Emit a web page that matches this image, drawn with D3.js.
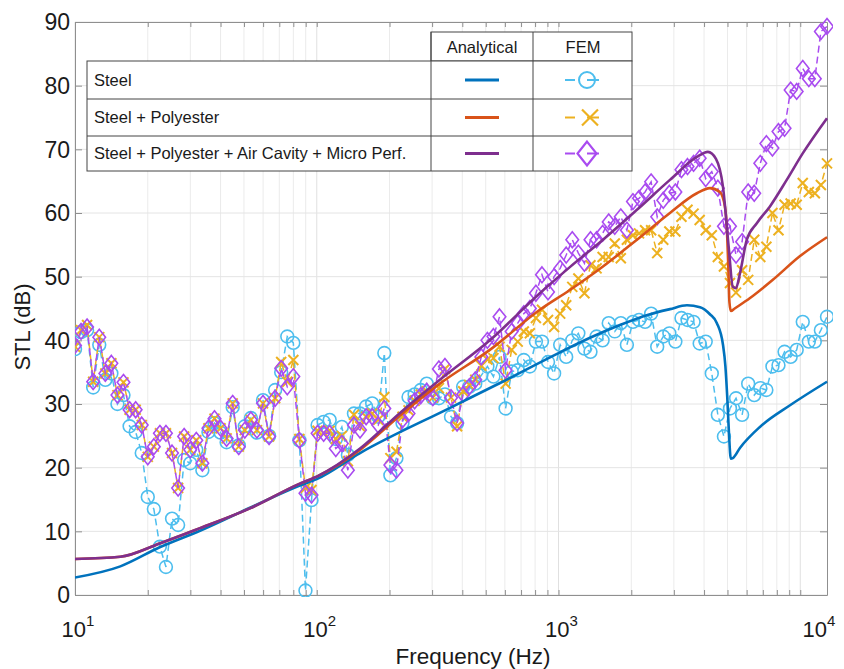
<!DOCTYPE html>
<html><head><meta charset="utf-8">
<script src="https://cdn.jsdelivr.net/npm/d3@7"></script>
<style>body{margin:0;background:#fff} svg{display:block} text{font-family:"Liberation Sans",Arial,Helvetica,sans-serif;fill:#1a1a1a}</style>
</head><body><svg id="c" width="844" height="669"></svg>
<script>
// ---------- DATA ----------
const freqFEM=[10,10.59,11.22,11.89,12.6,13.35,14.14,14.98,15.87,16.82,17.82,18.88,
20,21.19,22.45,23.78,25.2,26.7,28.28,29.97,31.75,33.64,35.64,37.76,
40,42.38,44.9,47.57,50.4,53.39,56.57,59.93,63.5,67.27,71.27,75.51,
80,84.76,89.8,95.14,100.8,106.8,113.1,119.9,127,134.5,142.5,151,
160,169.5,179.6,190.3,201.6,213.6,226.3,239.7,254,269.1,285.1,302.1,
320,339,359.2,380.6,403.2,427.1,452.5,479.5,508,538.2,570.2,604.1,
640,678.1,718.4,761.1,806.3,854.3,905.1,958.9,1016,1076,1140,1208,
1280,1356,1437,1522,1613,1709,1810,1918,2032,2153,2281,2416,
2560,2712,2874,3044,3225,3417,3620,3836,4064,4305,4561,4833,
5120,5424,5747,6089,6451,6834,7241,7671,8127,8611,9123,9665,
10240,10850,11490,12170,12900];
const stlSteelFEM=[38.6,41.3,41.6,32.6,39.3,33.8,34.8,30.0,31.4,26.5,25.6,22.3,
15.4,13.5,7.6,4.4,12.0,11.0,21.2,20.7,22.8,19.6,25.6,27.0,
25.5,24.0,29.5,23.5,26.5,27.8,25.5,30.6,25.0,32.2,35.0,40.6,
39.6,24.3,0.7,14.9,26.7,27.2,27.5,24.5,26.4,22.0,28.5,28.5,
29.6,30.1,28.0,38.0,18.8,21.5,27.0,31.1,31.5,32.2,33.2,30.9,
30.9,31.5,28.0,27.0,32.7,32.7,33.2,34.5,35.9,34.3,37.4,29.3,
35.1,35.3,36.9,35.9,39.8,39.8,36.6,34.8,39.3,37.4,40.0,41.1,
38.7,38.2,40.6,40.0,42.7,41.4,42.7,39.3,42.9,43.2,42.9,44.2,
39.0,40.6,41.1,39.8,43.5,43.2,42.9,39.5,39.8,34.8,28.3,24.9,
29.3,30.9,28.3,33.2,31.4,32.5,32.2,35.9,36.1,38.2,37.4,38.5,
42.9,39.8,39.8,41.6,43.7];
const stlPolyFEM=[39.0,41.6,42.4,33.5,40.5,34.8,36.4,31.4,33.4,29.1,29.1,26.7,
21.7,23.3,25.4,25.4,22.3,16.8,24.9,22.8,24.3,20.7,26.2,27.7,
26.2,24.6,30.1,23.3,25.9,27.5,25.9,30.1,24.9,30.9,36.6,33.5,
36.9,24.5,16.8,16.5,25.8,25.4,25.8,24.5,25.0,21.0,28.3,26.5,
28.0,28.5,27.5,31.1,21.5,22.5,28.0,29.0,30.5,31.5,32.0,31.0,
32.5,35.5,31.0,26.5,32.0,33.0,33.8,36.0,37.0,37.2,39.0,33.2,
38.5,39.8,41.4,41.1,43.5,44.8,43.2,42.1,44.2,45.5,48.4,49.7,
47.4,51.8,51.3,53.1,53.1,55.2,52.9,55.8,56.5,56.8,57.3,57.3,
53.7,55.8,57.1,57.1,59.4,60.5,59.9,58.9,57.3,56.5,53.1,51.6,
49.0,47.5,51.0,49.5,55.8,53.1,54.7,60.0,57.3,61.3,61.5,61.3,
64.7,63.3,63.1,64.4,67.8];
const stlMicroFEM=[39.2,41.4,42.1,33.5,40.5,34.8,36.4,31.4,33.4,29.1,29.1,26.7,
21.7,23.3,25.4,25.4,22.3,16.8,24.9,22.8,24.3,20.7,26.2,27.7,
26.2,24.6,30.1,23.3,25.9,27.5,25.9,30.1,24.9,30.9,35.6,32.7,
34.3,24.3,16.0,15.7,25.4,25.4,25.4,23.0,23.8,19.6,26.7,25.9,
28.0,28.0,26.7,29.3,20.4,19.6,27.5,28.5,30.5,31.3,32.0,31.0,
35.5,35.9,31.0,27.0,31.5,32.7,33.8,37.4,40.0,40.6,43.7,35.3,
41.4,42.7,44.2,45.0,47.4,50.3,47.6,50.0,51.3,53.4,55.8,53.7,
52.1,55.8,55.8,56.8,58.6,57.9,59.4,57.3,61.8,62.3,63.3,64.9,
59.4,62.0,63.1,63.3,66.8,67.3,67.8,68.6,65.4,66.5,63.9,57.9,
57.9,53.4,55.5,63.3,63.1,67.8,70.9,70.2,72.8,73.3,79.3,79.1,
82.7,81.1,81.1,88.5,89.3];

const freqSteelAna=[10,15.4,22.4,32.9,52.9,85.1,100,151,356,573,1000,1350,1795,2390,2890,3400,3850,4230,4520,4790,4900,4990,5070,5160,5260,5630,6810,9070,12900];
const stlSteelAna=[2.75,4.5,7.5,10.1,13.7,17.2,18.2,22.3,29.4,33.3,38.0,40.4,42.4,44.1,44.9,45.5,45.2,44.1,42.7,39.3,36.0,31.0,25.5,21.4,21.5,23.1,26.4,29.8,33.5];
const freqPolyAna=[10,15.4,22.4,32.9,52.9,85.1,100,151,221,323,520,837,1114,1527,2110,2890,3735,4230,4650,4880,4970,5045,5093,5165,5355,6180,7700,9950,12900];
const stlPolyAna=[5.65,6.0,8.1,10.5,13.6,17.5,18.6,22.8,28.2,33.2,38.5,44.8,47.9,51.6,55.8,60.0,63.1,63.9,63.3,61.0,57.5,51.0,46.0,44.6,45.0,46.6,49.5,53.2,56.2];
const freqMicroAna=[10,15.4,22.4,32.9,52.9,85.1,100,151,221,323,520,837,1114,1527,2110,2890,3735,4150,4480,4790,5070,5260,5420,5630,6010,6610,7480,8790,10250,12900];
const stlMicroAna=[5.65,6.0,8.1,10.5,13.6,17.5,18.6,23.0,28.6,33.8,40.0,47.4,51.5,55.8,60.5,65.2,68.8,69.6,68.5,64.1,54.2,48.4,48.2,50.5,55.8,58.4,61.0,65.2,69.4,74.9];

const xTickValues=[10,100,1000,10000];
const xTickExps=["1","2","3","4"];
const yTickValues=[0,10,20,30,40,50,60,70,80,90];
const legendRows=["Steel","Steel + Polyester","Steel + Polyester + Air Cavity + Micro Perf."];
const legendHeads=["Analytical","FEM"];
const xLabel="Frequency (Hz)", yLabel="STL (dB)";

// ---------- LAYOUT ----------
const L=75,R=827,T=22,B=595;
const svg=d3.select("#c");
const x=d3.scaleLog().domain([10,12900]).range([L,R]);
const y=d3.scaleLinear().domain([0,90]).range([B,T]);
const C={steelA:"#0072BD",polyA:"#D95319",microA:"#7E2F8E",steelF:"#4DBEEE",polyF:"#EDB120",microF:"#A94BF0"};

// grid
const g=svg.append("g");
const minor=[];
for(let d=10;d<=10000;d*=10){for(let m=1;m<10;m++){const v=d*m;if(v>=10&&v<=12900)minor.push(v);}}
g.selectAll(".vg").data(minor).join("line").attr("x1",d=>x(d)).attr("x2",d=>x(d)).attr("y1",T).attr("y2",B)
 .attr("stroke",d=>xTickValues.includes(d)?"#e0e0e0":"#ebebeb").attr("stroke-width",1);
g.selectAll(".hg").data(yTickValues).join("line").attr("x1",L).attr("x2",R).attr("y1",d=>y(d)).attr("y2",d=>y(d))
 .attr("stroke","#e4e4e4").attr("stroke-width",1);

// axes with d3 axis (inward ticks)
const axCol="#8f8f8f";
const xb=svg.append("g").attr("transform",`translate(0,${B})`).call(d3.axisBottom(x).tickValues(minor).tickSizeInner(-5).tickSizeOuter(0).tickFormat(""));
const xt=svg.append("g").attr("transform",`translate(0,${T})`).call(d3.axisTop(x).tickValues(minor).tickSizeInner(-5).tickSizeOuter(0).tickFormat(""));
const yl=svg.append("g").attr("transform",`translate(${L},0)`).call(d3.axisLeft(y).tickValues(yTickValues).tickSizeInner(-7).tickSizeOuter(0).tickFormat(""));
const yr=svg.append("g").attr("transform",`translate(${R},0)`).call(d3.axisRight(y).tickValues(yTickValues).tickSizeInner(-7).tickSizeOuter(0).tickFormat(""));
[xb,xt,yl,yr].forEach(a=>{a.select(".domain").attr("stroke",axCol);a.selectAll(".tick line").attr("stroke",axCol);});

// y tick labels
svg.append("g").selectAll("text").data(yTickValues).join("text")
 .attr("x",L-5).attr("y",d=>y(d)).attr("dy","0.36em").attr("text-anchor","end")
 .style("font-size","23px").text(d=>d);
// x tick labels with superscript
const xl=svg.append("g").selectAll("text").data(xTickValues).join("text")
 .attr("x",(d,i)=>i===3?R-8:x(d)+3).attr("y",637).attr("text-anchor","middle").style("font-size","22px");
xl.append("tspan").text("10");
xl.append("tspan").attr("dy",-11).style("font-size","15px").text((d,i)=>xTickExps[i]);

svg.append("text").attr("x",473).attr("y",664).attr("text-anchor","middle").style("font-size","22.5px").text(xLabel);
svg.append("text").attr("transform","translate(30,327) rotate(-90)").attr("text-anchor","middle").style("font-size","22px").text(yLabel);

// clip
svg.append("clipPath").attr("id","clp").append("rect").attr("x",L).attr("y",T-12).attr("width",R-L+6).attr("height",B-T+14);
const plot=svg.append("g").attr("clip-path","url(#clp)");

function markerPath(type,s){
  if(type==="o") return null;
  if(type==="x") return `M${-s},${-s}L${s},${s}M${-s},${s}L${s},${-s}`;
  if(type==="d") return `M0,${-s*1.25}L${s},0L0,${s*1.25}L${-s},0Z`;
}
function fem(vals,col,type){
  const pts=freqFEM.map((f,i)=>[f,vals[i]]);
  plot.append("path").datum(pts).attr("fill","none").attr("stroke",col).attr("stroke-width",1.5)
   .attr("stroke-dasharray","7,4").attr("d",d3.line().x(d=>x(d[0])).y(d=>y(d[1])));
  const mg=plot.append("g");
  if(type==="o"){
    mg.selectAll("circle").data(pts).join("circle").attr("cx",d=>x(d[0])).attr("cy",d=>y(d[1])).attr("r",6.4)
      .attr("fill","none").attr("stroke",col).attr("stroke-width",1.6);
  } else {
    mg.selectAll("path").data(pts).join("path").attr("transform",d=>`translate(${x(d[0])},${y(d[1])})`)
      .attr("d",markerPath(type,type==="x"?5:6.3)).attr("fill","none").attr("stroke",col).attr("stroke-width",type==="x"?2:1.6);
  }
}
fem(stlSteelFEM,C.steelF,"o");
fem(stlPolyFEM,C.polyF,"x");
fem(stlMicroFEM,C.microF,"d");

function ana(fr,vals,col){
  plot.append("path").datum(fr.map((f,i)=>[f,vals[i]])).attr("fill","none").attr("stroke",col).attr("stroke-width",2.6)
   .attr("d",d3.line().curve(d3.curveMonotoneX).x(d=>x(d[0])).y(d=>y(d[1])));
}
ana(freqSteelAna,stlSteelAna,C.steelA);
ana(freqPolyAna,stlPolyAna,C.polyA);
ana(freqMicroAna,stlMicroAna,C.microA);

// legend table
const lg=svg.append("g");
const lc="#444";
const x0=87,x1=431,x2=533,x3=632,yh=32,y0=61,rowsY=[61,99,136,171];
lg.append("rect").attr("x",x1).attr("y",yh).attr("width",x3-x1).attr("height",y0-yh).attr("fill","#fff").attr("stroke",lc);
lg.append("rect").attr("x",x0).attr("y",y0).attr("width",x3-x0).attr("height",rowsY[3]-y0).attr("fill","#fff").attr("stroke",lc);
[rowsY[1],rowsY[2]].forEach(v=>lg.append("line").attr("x1",x0).attr("x2",x3).attr("y1",v).attr("y2",v).attr("stroke",lc));
[x1,x2].forEach(v=>lg.append("line").attr("x1",v).attr("x2",v).attr("y1",yh).attr("y2",rowsY[3]).attr("stroke",lc));
lg.selectAll(".h").data(legendHeads).join("text").attr("x",(d,i)=>i?583:482).attr("y",47).attr("dy","0.36em")
 .attr("text-anchor","middle").style("font-size","16.5px").text(d=>d);
const anaCols=[C.steelA,C.polyA,C.microA],femCols=[C.steelF,C.polyF,C.microF],types=["o","x","d"];
legendRows.forEach((t,i)=>{
  const cy=(rowsY[i]+rowsY[i+1])/2;
  lg.append("text").attr("x",94).attr("y",cy).attr("dy","0.36em").style("font-size","16.5px").text(t);
  lg.append("line").attr("x1",465).attr("x2",499).attr("y1",cy).attr("y2",cy).attr("stroke",anaCols[i]).attr("stroke-width",3);
  lg.append("line").attr("x1",565).attr("x2",575).attr("y1",cy).attr("y2",cy).attr("stroke",femCols[i]).attr("stroke-width",2);
  lg.append("line").attr("x1",587).attr("x2",599).attr("y1",cy).attr("y2",cy).attr("stroke",femCols[i]).attr("stroke-width",2);
  if(types[i]==="o") lg.append("circle").attr("cx",587).attr("cy",cy).attr("r",8).attr("fill","none").attr("stroke",femCols[i]).attr("stroke-width",2);
  else lg.append("path").attr("transform",`translate(${types[i]==="x"?590:587},${cy})`).attr("d",markerPath(types[i],types[i]==="x"?8:9.5))
    .attr("fill","none").attr("stroke",femCols[i]).attr("stroke-width",2.2);
});
</script></body></html>
